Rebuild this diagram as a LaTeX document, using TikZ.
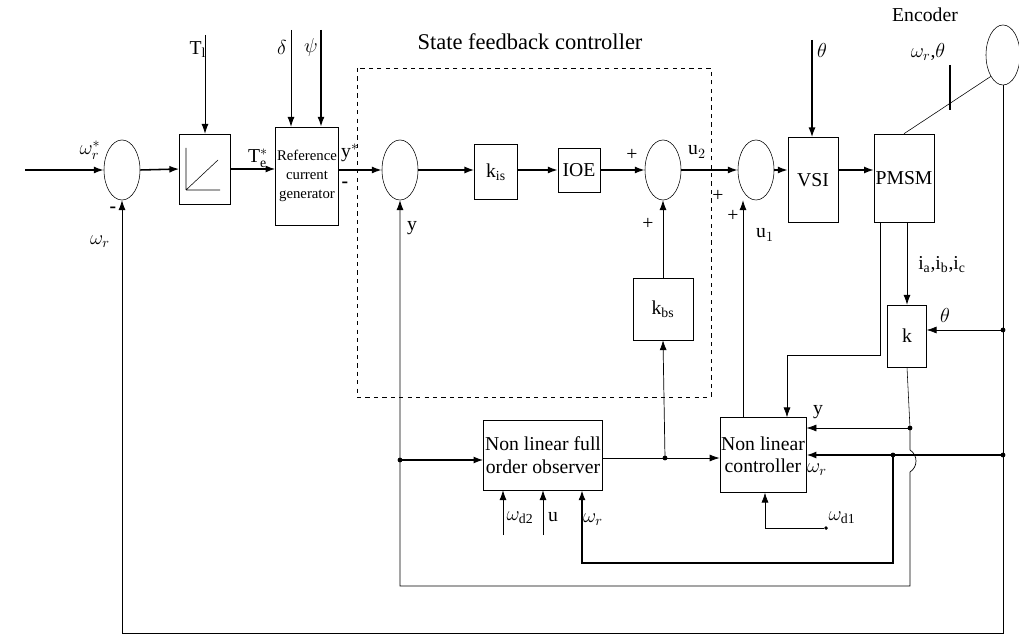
\documentclass[tikz,border=0pt]{standalone}
\usepackage{fontspec}
\setmainfont{Liberation Serif}
\usetikzlibrary{shapes.geometric,arrows.meta}
\tikzset{
  sumnode/.style={draw, ellipse, minimum width=0.9cm, minimum height=1.5cm, inner sep=0pt},
  blk/.style={draw, rectangle, inner sep=1pt, align=center},
  sig/.style={-{Latex[length=7pt,width=5pt]}, line width=1.1pt},
  thin sig/.style={-{Latex[length=7pt,width=5pt]}, line width=0.5pt},
  dot/.style={circle, fill, inner sep=1.2pt}
}
\begin{document}
\begin{tikzpicture}[x=0.025cm, y=-0.025cm, font=\fontsize{14}{16}\selectfont]
  \useasboundingbox (0,0) rectangle (1019,636);

  % Summing junctions
  \node (sum1) [sumnode] at (122,170) {};
  \node (sum2) [sumnode] at (400,170) {};
  \node (sum3) [sumnode] at (663,170) {};
  \node (sum4) [sumnode] at (756,170) {};
  \node (enc) [sumnode, minimum width=0.85cm] at (1003,55) {};

  % Blocks
  \node (lim) [blk, minimum width=1.275cm, minimum height=1.75cm] at (205,169) {};
  \node (refgen) [blk, minimum width=1.45cm, minimum height=2.45cm, font=\fontsize{10.5}{13.5}\selectfont] at (307,176) {Reference\\current\\generator};
  \node (kis) [blk, minimum width=1.07cm, minimum height=1.37cm] at (496,172) {$\mathrm{k}_{\mathrm{is}}$};
  \node (ioe) [blk, minimum width=1.05cm, minimum height=1.1cm] at (579,170) {IOE};
  \node (kbs) [blk, minimum width=1.5cm, minimum height=1.55cm] at (663,309) {$\mathrm{k}_{\mathrm{bs}}$};
  \node (vsi) [blk, minimum width=1.25cm, minimum height=2.12cm] at (813,180) {VSI};
  \node (pmsm) [blk, minimum width=1.3cm, minimum height=2.2cm] at (904,178) {PMSM};
  \node (kblk) [blk, minimum width=0.97cm, minimum height=1.55cm] at (907,336) {k};
  \node (obs) [blk, minimum width=2.82cm, minimum height=1.75cm] at (543,455) {Non linear full\\order observer};
  \node (nlc) [blk, minimum width=2cm, minimum height=1.87cm] at (763,455) {Non linear\\controller};

  % Dashed controller frame
  \draw[dashed] (357,68) rectangle (711,397);
  \node (title) at (530,42) {\fontsize{16}{18}\selectfont State feedback controller};

  % Saturation sketch
  \draw (186,190) -- (186,148) (186,190) -- (220,190) (186,190) -- (218,160);

  % Free ends
  \coordinate (win) at (25,170);
  \coordinate (tl) at (205,35);
  \coordinate (dl) at (291,30);
  \coordinate (ps) at (321,30);
  \coordinate (th) at (812,40);
  \coordinate (wd2) at (503,535);
  \coordinate (uin) at (543,535);
  \node (wd1) [dot, inner sep=1pt] at (826,528) {};
  \node (d1) [dot] at (400,460) {};
  \node (d2) [dot] at (665,458) {};
  \node (d3) [dot] at (910,428) {};
  \node (d4) [dot] at (893,455) {};
  \node (d5) [dot] at (1003,455) {};
  \node (d6) [dot] at (1003,330) {};

  % Forward path
  \draw[sig] (win) -- (sum1.west);
  \draw[sig] (sum1.east) -- (lim.west);
  \draw[sig] (lim.east) -- (refgen.west |- lim.east);
  \draw[sig] (refgen.east |- sum2.west) -- (sum2.west);
  \draw[sig] (sum2.east) -- (kis.west |- sum2.east);
  \draw[sig] (kis.east |- ioe.west) -- (ioe.west);
  \draw[sig] (ioe.east) -- (sum3.west);
  \draw[sig] (sum3.east) -- (sum4.west);
  \draw[sig] (sum4.east) -- (vsi.west |- sum4.east);
  \draw[sig] (vsi.east |- sum4.east) -- (pmsm.west |- sum4.east);

  % Top inputs
  \draw[thin sig] (tl) -- (lim.north);
  \draw[thin sig] (dl) -- (dl |- refgen.north);
  \draw[sig] (ps) -- (ps |- refgen.north);
  \draw[sig] (th) -- (th |- vsi.north);
  \draw[thin sig] (kbs.north) -- (sum3.south);

  % Encoder
  \draw (pmsm.north) -- (enc.south west);
  \draw[line width=0.8pt] (950,65) -- (950,110);

  % Feedback paths
  \draw[thin sig] (enc.south) -- (d5.center) -- (1003,633) -| (sum1.south);
  \draw[thin sig] (d6.center) -- (kblk.east |- d6);
  \draw[line width=1.1pt] (d5.center) -- (d4.center);
  \draw[sig] (d4.center) -- (nlc.east |- d4);
  \draw[sig] (d4.center) -- (893,563) -| (obs.south -| 582,0);
  \draw[thin sig] (pmsm.south -| kblk.north) -- (kblk.north);
  \draw[thin sig] (pmsm.south -| 880,0) -- (880,355) -| (nlc.north -| 787,0);
  \draw[thin sig] (nlc.north -| 743,0) -- (sum4.south -| 743,0);
  \draw (kblk.south) -- (d3.center);
  \draw[thin sig] (d3.center) -- (nlc.east |- d3);
  \draw[thin sig] (d3.center) -- (910,450) .. controls (918,455) and (918,467) .. (910,472)
    -- (910,586) -- (400,586) -- (sum2.south);
  \draw[sig] (d1.center) -- (obs.west |- d1);
  \draw (obs.east |- d2) -- (d2.center);
  \draw[thin sig] (d2.center) -- (kbs.south);
  \draw[thin sig] (d2.center) -- (nlc.west |- d2);
  \draw[thin sig] (wd1) -- (765,528) -- (nlc.south -| 765,0);
  \draw[thin sig] (wd2) -- (wd2 |- obs.south);
  \draw[thin sig] (uin) -- (uin |- obs.south);

  % Labels
  \node at (90,150) {$\omega_r^{*}$};
  \node at (113,210) {\textbf{-}};
  \node at (100,242) {$\omega_r$};
  \node at (198,50) {T$_{\mathrm{l}}$};
  \node at (258,158) {T$_{\mathrm{e}}^{*}$};
  \node at (282,47) {$\delta$};
  \node at (311,47) {$\psi$};
  \node at (350,153) {y$^{*}$};
  \node at (345,185) {\textbf{-}};
  \node at (412,228) {y};
  \node at (632,155) {+};
  \node at (648,224) {+};
  \node at (697,152) {u$_2$};
  \node at (718,196) {+};
  \node at (733,216) {+};
  \node at (765,235) {u$_1$};
  \node at (822,50) {$\theta$};
  \node at (925,15) {Encoder};
  \node at (928,52) {$\omega_r$,$\theta$};
  \node at (942,265) {i$_{\mathrm{a}}$,i$_{\mathrm{b}}$,i$_{\mathrm{c}}$};
  \node at (945,315) {$\theta$};
  \node at (818,412) {y};
  \node at (817,470) {$\omega_r$};
  \node at (842,518) {$\omega_{\mathrm{d1}}$};
  \node at (520,518) {$\omega_{\mathrm{d2}}$};
  \node at (553,517) {u};
  \node at (593,520) {$\omega_r$};
\end{tikzpicture}
\end{document}
